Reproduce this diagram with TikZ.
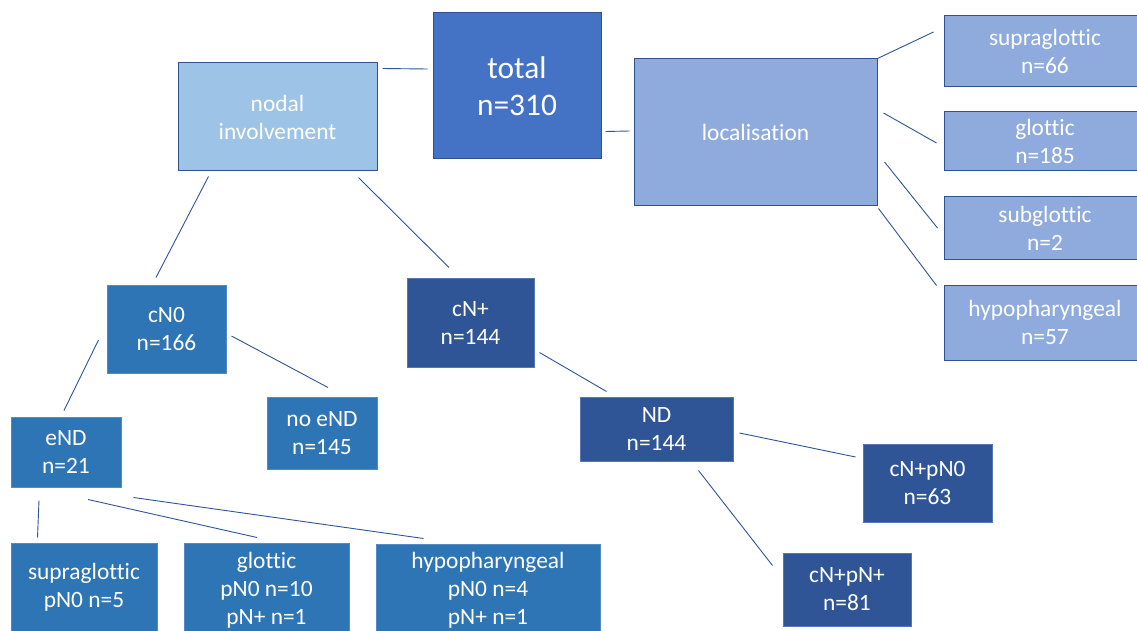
\documentclass[tikz,border=0pt]{standalone}
\usepackage{fontspec}
\setmainfont[Ligatures=NoCommon]{Carlito}
\usepackage{tikz}
\usepackage{xcolor}
\definecolor{paleblue}{HTML}{9DC3E6}
\definecolor{midblue}{HTML}{4472C4}
\definecolor{softblue}{HTML}{8FAADC}
\definecolor{seablue}{HTML}{2E75B6}
\definecolor{navyblue}{HTML}{2F5597}
\definecolor{edgeblue}{HTML}{2F528F}

\begin{document}
\begin{tikzpicture}[x=1pt, y=-1pt,
    box/.style={draw, line width=1pt, text=white, align=center, inner sep=0pt,
        font=\fontsize{23.4}{28}\selectfont},
    lightbox/.style={box, fill=paleblue, draw=edgeblue},
    locbox/.style={box, fill=softblue, draw=edgeblue},
    seabox/.style={box, fill=seablue, draw=seablue!60!softblue},
    navybox/.style={box, fill=navyblue, draw=navyblue!60!softblue},
    link/.style={navyblue, line width=0.9pt}]
    % Canvas
    \fill[white] (0,0) rectangle (1137,631);
    \clip (0,0) rectangle (1137,631);

    % Top row
    \node[box, fill=midblue, draw=edgeblue, minimum width=168pt, minimum height=146pt,
        font=\fontsize{31.4}{37}\selectfont] (total) at (517,86) {total\\n=310};
    \node[lightbox, minimum width=199pt, minimum height=108pt] (nodal) at (277.5,117) {nodal\\involvement};
    \node[locbox, minimum width=243pt, minimum height=146pt] (loc) at (755.5,132) {localisation};

    % Localisation branches
    \node[locbox, minimum width=202pt, minimum height=71pt] (rsupra) at (1045,51.5) {supraglottic\\n=66};
    \node[locbox, minimum width=202pt, minimum height=59pt] (rglot) at (1045,141.5) {glottic\\n=185};
    \node[locbox, minimum width=202pt, minimum height=62pt] (rsub) at (1045,228) {subglottic\\n=2};
    \node[locbox, minimum width=202pt, minimum height=75pt] (rhypo) at (1045,322.5) {hypopharyngeal\\n=57};

    % Nodal branches
    \node[seabox, minimum width=119pt, minimum height=88pt] (cN0) at (166.5,329) {cN0\\n=166};
    \node[navybox, minimum width=127pt, minimum height=89pt] (cNplus) at (470.5,322.5) {cN+\\n=144};
    \node[seabox, minimum width=110pt, minimum height=72pt] (noeND) at (322,433) {no eND\\n=145};
    \node[seabox, minimum width=110pt, minimum height=70pt] (eND) at (66,452) {eND\\n=21};
    \node[navybox, minimum width=153pt, minimum height=64pt] (ND) at (656.5,429) {ND\\n=144};
    \node[navybox, minimum width=129pt, minimum height=78pt] (cNpN0) at (927.5,483) {cN+pN0\\n=63};
    \node[navybox, minimum width=128pt, minimum height=73pt] (cNpNp) at (847,589.5) {cN+pN+\\n=81};

    % Bottom row
    \node[seabox, minimum width=146pt, minimum height=88pt] (bsupra) at (84,587) {supraglottic\\pN0 n=5};
    \node[seabox, minimum width=165pt, minimum height=94pt] (bglot) at (266.5,590) {glottic\\pN0 n=10\\pN+ n=1};
    \node[seabox, minimum width=224pt, minimum height=92pt] (bhypo) at (488,590) {hypopharyngeal\\pN0 n=4\\pN+ n=1};

    % Connectors
    \draw[link] ([shift={(5pt,-6pt)}]nodal.north east) -- ([shift={(-5pt,17pt)}]total.west);
    \draw[link] ([shift={(4pt,28pt)}]total.south east) -- ([shift={(-4pt,1pt)}]loc.west);
    \draw[link] (loc.north east) -- ([shift={(-10pt,19.5pt)}]rsupra.west);
    \draw[link] ([shift={(6pt,19pt)}]loc.east) -- ([shift={(-7pt,-1.5pt)}]rglot.west);
    \draw[link] ([shift={(7pt,-30pt)}]loc.east) -- ([shift={(-6pt,0pt)}]rsub.west);
    \draw[link] ([shift={(1pt,-3pt)}]loc.south east) -- ([shift={(-7pt,-1pt)}]rhypo.north west);
    \draw[link] ([shift={(31pt,-5pt)}]nodal.south west) -- ([shift={(-10.5pt,7pt)}]cN0.north);
    \draw[link] ([shift={(-19pt,-6pt)}]nodal.south east) -- ([shift={(-21.5pt,10pt)}]cNplus.north);
    \draw[link] ([shift={(-8pt,-11pt)}]cN0.west) -- ([shift={(-2pt,6pt)}]eND.north);
    \draw[link] ([shift={(5pt,-7pt)}]cN0.east) -- ([shift={(6pt,9pt)}]noeND.north);
    \draw[link] ([shift={(-27pt,-13pt)}]eND.south) -- ([shift={(27pt,5pt)}]bsupra.north west);
    \draw[link] ([shift={(22pt,-12pt)}]eND.south) -- ([shift={(-9.5pt,5pt)}]bglot.north);
    \draw[link] ([shift={(12pt,-10pt)}]eND.south east) -- ([shift={(48pt,5pt)}]bhypo.north west);
    \draw[link] ([shift={(5pt,15pt)}]cNplus.south east) -- ([shift={(27pt,5pt)}]ND.north west);
    \draw[link] ([shift={(6pt,-4pt)}]ND.east) -- ([shift={(-7pt,26pt)}]cNpN0.west);
    \draw[link] ([shift={(-35pt,-9pt)}]ND.south east) -- ([shift={(-10pt,-13pt)}]cNpNp.north west);
\end{tikzpicture}
\end{document}
